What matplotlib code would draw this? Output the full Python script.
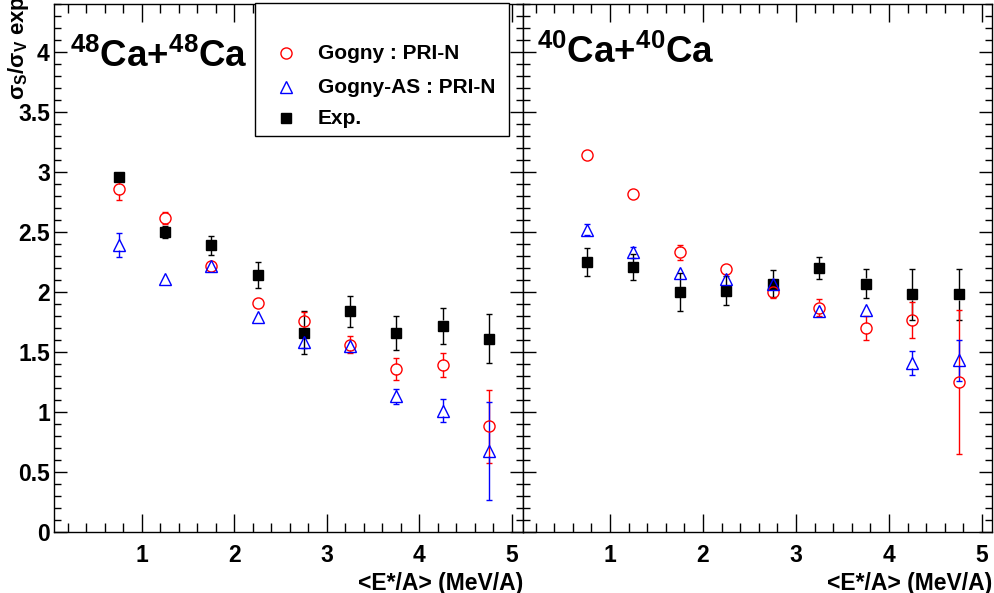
import numpy as np
import matplotlib
matplotlib.use('Agg')
import matplotlib.pyplot as plt
from matplotlib.ticker import MultipleLocator, FormatStrFormatter
from matplotlib.patches import Rectangle

plt.rcParams['font.family'] = ['Liberation Sans', 'DejaVu Sans']
plt.rcParams['font.weight'] = 'bold'
plt.rcParams['axes.labelweight'] = 'bold'
plt.rcParams['mathtext.default'] = 'regular'

# mean excitation energy per nucleon (MeV/A)
e_star = [0.75, 1.25, 1.75, 2.25, 2.75, 3.25, 3.75, 4.25, 4.75]

# 48Ca+48Ca
ca48_exp = [2.96, 2.50, 2.39, 2.14, 1.66, 1.84, 1.66, 1.72, 1.61]
ca48_exp_err = [0.02, 0.05, 0.08, 0.11, 0.18, 0.13, 0.14, 0.15, 0.205]
ca48_gogny = [2.86, 2.62, 2.22, 1.91, 1.76, 1.56, 1.36, 1.39, 0.88]
ca48_gogny_err = [0.095, 0.05, 0.03, 0.03, 0.07, 0.07, 0.09, 0.10, 0.305]
ca48_as = [2.39, 2.11, 2.22, 1.79, 1.58, 1.55, 1.13, 1.01, 0.675]
ca48_as_err = [0.10, 0.03, 0.03, 0.02, 0.05, 0.03, 0.065, 0.095, 0.41]

# 40Ca+40Ca
ca40_exp = [2.25, 2.21, 2.00, 2.01, 2.07, 2.20, 2.07, 1.98, 1.98]
ca40_exp_err = [0.115, 0.11, 0.16, 0.12, 0.11, 0.09, 0.12, 0.21, 0.21]
ca40_gogny = [3.14, 2.82, 2.33, 2.19, 2.00, 1.87, 1.70, 1.77, 1.25]
ca40_gogny_err = [0.02, 0.02, 0.06, 0.03, 0.05, 0.07, 0.10, 0.15, 0.60]
ca40_as = [2.52, 2.33, 2.16, 2.11, 2.07, 1.84, 1.85, 1.41, 1.43]
ca40_as_err = [0.048, 0.048, 0.02, 0.02, 0.03, 0.03, 0.03, 0.10, 0.17]

W, H = 995, 593
MARK_R = 0.044   # half marker height in y units, bars start outside the marker


def px_box(x0, x1, y0, y1):
    # pixel box (top-left origin) -> figure fraction rect
    return [x0 / W, 1 - y1 / H, (x1 - x0) / W, (y1 - y0) / H]


def root_errors(ax, x, y, err, color):
    # error bars drawn from the marker edge outwards, with small end caps
    x = np.asarray(x)
    y = np.asarray(y)
    err = np.asarray(err)
    m = err > MARK_R
    xs, ys, es = x[m], y[m], err[m]
    ax.vlines(xs, ys + MARK_R, ys + es, color=color, lw=1, zorder=2)
    ax.vlines(xs, ys - es, ys - MARK_R, color=color, lw=1, zorder=2)
    ax.plot(xs, ys + es, ls='none', marker='_', ms=5, mew=1, color=color, zorder=2)
    ax.plot(xs, ys - es, ls='none', marker='_', ms=5, mew=1, color=color, zorder=2)


def draw_panel(ax, exp, exp_err, gog, gog_err, gas, gas_err):
    root_errors(ax, e_star, exp, exp_err, 'black')
    ax.plot(e_star, exp, 's', color='black', ms=7.5, zorder=3)
    root_errors(ax, e_star, gog, gog_err, 'red')
    ax.plot(e_star, gog, 'o', mec='red', mfc='none', ms=8, mew=1, zorder=3)
    root_errors(ax, e_star, gas, gas_err, 'blue')
    ax.plot(e_star, gas, '^', mec='blue', mfc='none', ms=8, mew=1, zorder=3)

    ax.set_ylim(0, 4.4)
    ax.yaxis.set_major_locator(MultipleLocator(0.5))
    ax.yaxis.set_minor_locator(MultipleLocator(0.1))
    ax.yaxis.set_major_formatter(FormatStrFormatter('%g'))
    ax.xaxis.set_major_locator(MultipleLocator(1))
    ax.xaxis.set_minor_locator(MultipleLocator(0.2))

    ax.tick_params(axis='both', which='both', direction='in', top=True, right=True,
                   labelsize=16.5, width=1)
    ax.tick_params(axis='x', which='major', length=13, pad=9)
    ax.tick_params(axis='x', which='minor', length=6.5)
    ax.tick_params(axis='y', which='major', length=9.4, pad=3)
    ax.tick_params(axis='y', which='minor', length=5)
    for sp in ax.spines.values():
        sp.set_linewidth(1)
    ax.set_xlabel('<E*/A> (MeV/A)', loc='right', fontsize=16.5, fontweight='bold',
                  labelpad=3)


fig = plt.figure(figsize=(W / 100, H / 100), dpi=100)

ax_l = fig.add_axes(px_box(54, 523, 4, 532))
ax_r = fig.add_axes(px_box(523, 992, 4, 532))

draw_panel(ax_l, ca48_exp, ca48_exp_err, ca48_gogny, ca48_gogny_err, ca48_as, ca48_as_err)
draw_panel(ax_r, ca40_exp, ca40_exp_err, ca40_gogny, ca40_gogny_err, ca40_as, ca40_as_err)

ax_l.set_xlim(0.049, 5.119)
ax_r.set_xlim(0.065, 5.108)
ax_r.tick_params(axis='y', labelleft=False)

ax_l.text(0.034, 0.881, '$^{48}$Ca+$^{48}$Ca', transform=ax_l.transAxes,
          fontsize=26.5, fontweight='bold', va='baseline', ha='left')
ax_r.text(0.030, 0.888, '$^{40}$Ca+$^{40}$Ca', transform=ax_r.transAxes,
          fontsize=26.5, fontweight='bold', va='baseline', ha='left')

# y title runs off the top of the canvas
fig.text(19 / W, 1 - 100 / H, 'σ$_S$/σ$_V$ exp', rotation=90, fontsize=16,
         ha='center', va='bottom')

# legend box
lax = fig.add_axes(px_box(255, 509, 3, 136))
lax.set_xlim(0, 1)
lax.set_ylim(0, 1)
lax.axis('off')
lax.add_patch(Rectangle((0, 0), 1, 1, transform=lax.transAxes, facecolor='white',
                        edgecolor='black', lw=1, clip_on=False))
entries = [
    ('o', 'red', 'Gogny : PRI-N', 0.624),
    ('^', 'blue', 'Gogny-AS : PRI-N', 0.368),
    ('s', 'black', 'Exp.', 0.135),
]
for mk, col, label, yy in entries:
    if mk == 's':
        lax.plot([0.122], [yy], mk, color=col, ms=7.5)
    else:
        lax.plot([0.122], [yy], mk, mec=col, mfc='none', ms=8, mew=1)
    lax.text(0.248, yy, label, fontsize=15, fontweight='bold', va='center', ha='left')

fig.savefig('out.png', dpi=100)
